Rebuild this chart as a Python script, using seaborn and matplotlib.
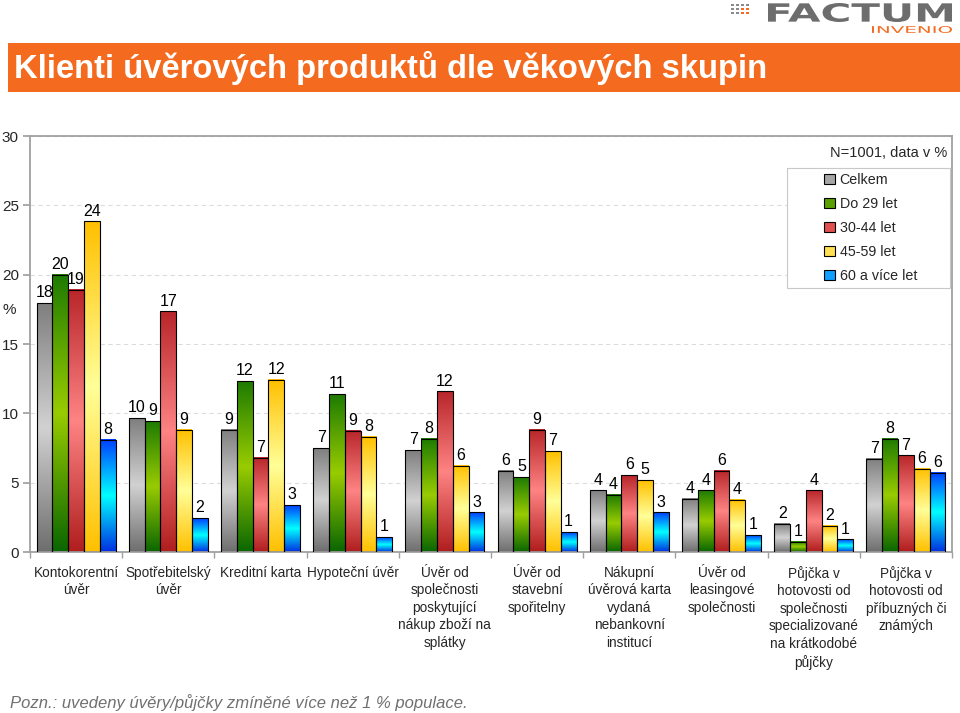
import matplotlib
matplotlib.use("Agg")
import matplotlib.pyplot as plt
from matplotlib.colors import LinearSegmentedColormap
from matplotlib.patches import Patch, Rectangle, PathPatch
from matplotlib.textpath import TextPath
from matplotlib.font_manager import FontProperties
from matplotlib.transforms import Affine2D
import numpy as np
import pandas as pd
import seaborn as sns

categories = ["Kontokorentní\núvěr", "Spotřebitelský\núvěr", "Kreditní karta", "Hypoteční úvěr",
              "Úvěr od\nspolečnosti\nposkytující\nnákup zboží na\nsplátky",
              "Úvěr od\nstavební\nspořitelny",
              "Nákupní\núvěrová karta\nvydaná\nnebankovní\ninstitucí",
              "Úvěr od\nleasingové\nspolečnosti",
              "Půjčka v\nhotovosti od\nspolečnosti\nspecializované\nna krátkodobé\npůjčky",
              "Půjčka v\nhotovosti od\npříbuzných či\nznámých"]
groups = ["Celkem", "Do 29 let", "30-44 let", "45-59 let", "60 a více let"]
celkem = [17.95, 9.65, 8.83, 7.49, 7.34, 5.86, 4.45, 3.84, 2.04, 6.74]
do29 = [20.0, 9.43, 12.33, 11.38, 8.16, 5.4, 4.13, 4.44, 0.74, 8.16]
let30_44 = [18.9, 17.35, 6.79, 8.74, 11.59, 8.83, 5.54, 5.86, 4.44, 6.96]
let45_59 = [23.85, 8.83, 12.43, 8.30, 6.22, 7.27, 5.18, 3.77, 1.9, 6.0]
let60 = [8.09, 2.45, 3.38, 1.08, 2.86, 1.44, 2.86, 1.22, 0.91, 5.71]
yticks = [0, 5, 10, 15, 20, 25, 30]

# (spodek, střed, vršek) barevného přechodu
grad_colors = [("#6e6e6e", "#d2d2d2", "#7f7f7f"),
               ("#0a6600", "#99cc00", "#1e7b00"),
               ("#b01e1e", "#ff8484", "#b8262a"),
               ("#ffc000", "#ffff99", "#ffc000"),
               ("#0030e0", "#00ffff", "#0040ff")]
mid_colors = ["#a6a6a6", "#5aa000", "#e05050", "#ffe050", "#10a0ff"]
orange = "#f46a1f"

df = pd.DataFrame({
    "kategorie": categories * 5,
    "skupina": sum([[g] * len(categories) for g in groups], []),
    "hodnota": celkem + do29 + let30_44 + let45_59 + let60,
})

sns.set_theme(style="white")
plt.rcParams["font.family"] = ["Liberation Sans", "DejaVu Sans"]

fig = plt.figure(figsize=(9.6, 7.13), dpi=100)
W, H = 960, 713
ax = fig.add_axes([30 / W, 161 / H, 922 / W, 416 / H])

sns.barplot(data=df, x="kategorie", y="hodnota", hue="skupina", order=categories,
            hue_order=groups, palette=mid_colors, saturation=1, width=0.856, gap=0,
            edgecolor="black", linewidth=0.8, legend=False, ax=ax)

# přechody uvnitř sloupců
for cont, cols in zip(ax.containers, grad_colors):
    cmap = LinearSegmentedColormap.from_list("g", list(cols))
    for bar in cont:
        x, w, h = bar.get_x(), bar.get_width(), bar.get_height()
        ax.imshow(np.linspace(0, 1, 128).reshape(-1, 1), cmap=cmap, origin="lower",
                  extent=[x, x + w, 0, h], aspect="auto", zorder=2)
        bar.set_facecolor("none")
        bar.set_zorder(3)
    ax.bar_label(cont, labels=[f"{b.get_height():.0f}" for b in cont], padding=2,
                 fontsize=11.5, color="black")

ax.set_xlim(-0.5, len(categories) - 0.5)
ax.set_ylim(0, 30)
ax.set_yticks(yticks)
ax.set_yticklabels([str(t) for t in yticks], fontsize=11)
ax.set_xticks(range(len(categories)))
ax.set_xticklabels(categories, fontsize=9.8, linespacing=1.32, va="top")
ax.set_xticks(np.arange(-0.5, len(categories)), minor=True)
ax.tick_params(axis="x", which="major", length=0, pad=10)
ax.tick_params(axis="x", which="minor", length=4, color="#a0a0a0", width=1, bottom=True)
ax.tick_params(axis="y", length=5, color="#a0a0a0", pad=3, left=True)
ax.set_xlabel("")
ax.set_ylabel("")
ax.grid(axis="y", linestyle=(0, (4, 3)), color="#dcdcdc", linewidth=0.8)
ax.set_axisbelow(True)
for s in ax.spines.values():
    s.set_color("#a0a0a0")
    s.set_linewidth(1.3)
fig.text(9 / W, 1 - 310 / H, "%", fontsize=11, ha="center", va="center")

# legenda
ax.add_patch(Rectangle((787 / W, 1 - 288 / H), 163 / W, 120 / H, transform=fig.transFigure,
                       facecolor="white", edgecolor="#c8c8c8", linewidth=0.8, zorder=5,
                       clip_on=False))
handles = [Patch(facecolor=c, edgecolor="black", linewidth=0.8) for c in mid_colors]
leg = ax.legend(handles, groups, loc="upper left", bbox_to_anchor=(824 / W, 1 - 173 / H),
                bbox_transform=fig.transFigure, frameon=False, fontsize=10.3,
                handlelength=0.75, handleheight=0.75, handletextpad=0.35, labelspacing=0.7,
                borderaxespad=0, borderpad=0)
leg.set_zorder(6)
fig.text(947 / W, 1 - 153 / H, "N=1001, data v %", ha="right", va="center", fontsize=10.5)

# záhlaví
fig.patches.append(Rectangle((8 / W, 1 - 92 / H), 952 / W, 49 / H, transform=fig.transFigure,
                             facecolor=orange, edgecolor="none"))
fig.text(14 / W, 1 - 68 / H, "Klienti úvěrových produktů dle věkových skupin", color="white",
         fontsize=23.6, fontweight="bold", ha="left", va="center")


# logo (roztažený text v pixelech)
def stretched_text(s, x0, x1, y_top, y_bot, color, weight="bold"):
    tp = TextPath((0, 0), s, size=20, prop=FontProperties(family="DejaVu Sans", weight=weight))
    ext = tp.get_extents()
    sx = (x1 - x0) / ext.width
    sy = (y_bot - y_top) / ext.height
    tr = Affine2D().translate(-ext.x0, -ext.y0).scale(sx, sy).translate(x0, H - y_bot)
    fig.patches.append(PathPatch(tr.transform_path(tp), facecolor=color, edgecolor="none",
                                 transform=None))


stretched_text("FACTUM", 768, 952, 3, 22, "#6d6d6d")
stretched_text("INVENIO", 872, 952, 26, 33, orange, weight="normal")
for r in range(3):
    for c in range(4):
        col = orange if (r >= 1 and c >= 2) else "#8a8a8a"
        fig.patches.append(Rectangle(((731 + c * 5) / W, 1 - (6 + r * 4) / H), 3 / W, 2.5 / H,
                                     transform=fig.transFigure, facecolor=col, edgecolor="none"))

fig.text(10 / W, 1 - 703 / H, "Pozn.: uvedeny úvěry/půjčky zmíněné více než 1 % populace.",
         fontsize=12, style="italic", color="#707070", ha="left", va="center")

fig.savefig("out.png", dpi=100)
